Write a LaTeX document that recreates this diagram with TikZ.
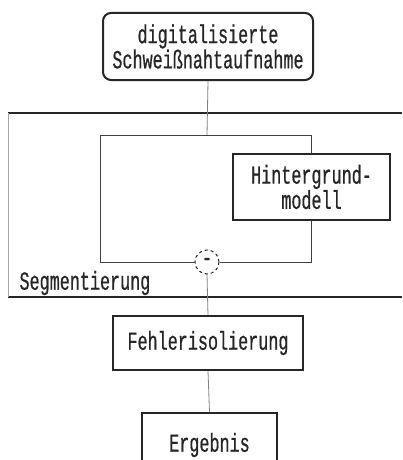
\documentclass[tikz,border=0pt]{standalone}
\usepackage{fontspec}
\newfontfamily\dotmono[FakeStretch=0.645, FakeBold=0.6]{Liberation Mono}
\begin{document}
\begin{tikzpicture}[x=1pt,y=-1pt,
  txt/.style={font=\dotmono\fontsize{26}{23}\selectfont, text=black!85, align=center},
  box/.style={txt, draw=black!85, line width=2pt, inner sep=0pt},
  conn/.style={draw=black!50, line width=0.8pt},
  thin/.style={draw=black!75, line width=1pt},
  framebar/.style={draw=black!85, line width=1.8pt}]
\clip (0,0) rectangle (402,460);
\fill[white] (0,0) rectangle (402,460);

% segmentation frame
\draw[framebar] (8,113) -- (402,113);
\draw[framebar] (8,297) -- (402,297);
\draw[draw=black!35, line width=0.8pt] (8,113) -- (8,297);
\node[txt, anchor=west] (seglabel) at (16,283) {Segmentierung};

% blocks
\node[box, rounded corners=8pt, minimum width=210pt, minimum height=67pt] (src) at (208,46.5)
  {digitalisierte\\Schweißnahtaufnahme};
\node[box, minimum width=157pt, minimum height=66pt] (hm) at (311.5,187)
  {Hintergrund-\\modell};
\node[txt, circle, draw=black!85, dashed, line width=1pt, minimum size=24pt, inner sep=0pt] (minus) at (207,262) {-};
\node[box, minimum width=190pt, minimum height=54pt] (fi) at (208,343) {Fehlerisolierung};
\node[box, minimum width=135pt, minimum height=64pt] (erg) at (209.5,445) {Ergebnis};

% signal paths
\coordinate (split) at (207,135);
\coordinate (lcorner) at (100,135);
\draw[conn] (src.south) -- (split);
\draw[thin] (split) -| (hm.north);
\draw[thin] (hm.south) |- (minus.east);
\draw[thin] (split) -- (lcorner) |- (minus.west);
\draw[conn] (minus.south) -- (fi.north);
\draw[conn] (fi.south) -- (erg.north);
\end{tikzpicture}
\end{document}
